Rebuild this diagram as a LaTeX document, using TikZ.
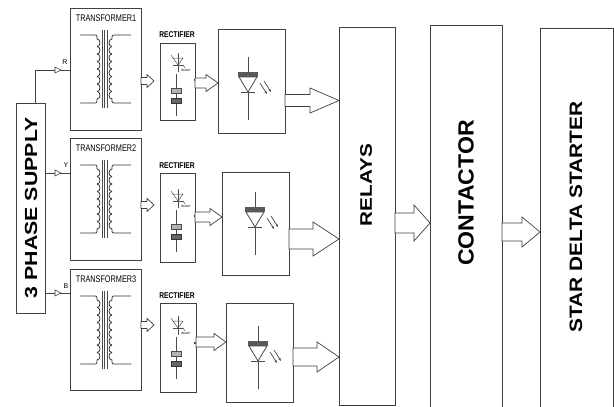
\documentclass[tikz,border=0pt]{standalone}
\usepackage{fontspec}
\setmainfont{Liberation Sans}
\usetikzlibrary{arrows.meta}
\newcommand\blockarrow[7]{%
  \path (#1.east |- 0,#3) coordinate (ba1) (#2.west |- 0,#3) coordinate (ba2);
  \draw[arr] ([yshift=#4pt]ba1) -- ([xshift=-#6pt-#7pt,yshift=#4pt]ba2) -- ([xshift=-#6pt-#7pt,yshift=#5pt]ba2) -- ([xshift=-#7pt]ba2) -- ([xshift=-#6pt-#7pt,yshift=-#5pt]ba2) -- ([xshift=-#6pt-#7pt,yshift=-#4pt]ba2) -- ([yshift=-#4pt]ba1) -- cycle;}
\tikzset{
  box/.style={draw=black!75, line width=0.8pt, anchor=north west, inner sep=0pt, outer sep=0pt},
  arr/.style={draw=black!75, line width=0.7pt, fill=white},
  sym/.style={draw=black!70, line width=0.5pt},
  coil/.style={draw=black!80, line width=0.75pt},
  wire/.style={draw=black!75, line width=0.7pt},
  ttl/.style={inner sep=0pt, font=\fontsize{9.6}{9.6}\selectfont},
  rtl/.style={inner sep=0pt, font=\fontsize{8.4}{8.4}\selectfont\bfseries},
  big/.style={inner sep=0pt, rotate=90},
  phl/.style={inner sep=0pt, font=\fontsize{7}{7}\selectfont},
  xfsym/.pic={
    \foreach \dx in {-2.5,0,2.5} \draw[sym, line width=0.6pt] (34.5+\dx,22) -- (34.5+\dx,100);
    \draw[coil] (10,27) -- (23,27) .. controls (27,27) .. (27,31);
    \foreach \i in {0,...,7} \draw[coil] (27,31+7.5*\i) .. controls (31,31+7.5*\i) and (31,38.5+7.5*\i) .. (27,38.5+7.5*\i);
    \draw[coil] (27,91) .. controls (27,95) .. (23,95) -- (10,95);
    \draw[coil] (61,27) -- (46,27) .. controls (42,27) .. (42,31);
    \foreach \i in {0,...,7} \draw[coil] (42,31+7.5*\i) .. controls (38,31+7.5*\i) and (38,38.5+7.5*\i) .. (42,38.5+7.5*\i);
    \draw[coil] (42,91) .. controls (42,95) .. (46,95) -- (61,95);
  },
  rectsym/.pic={
    \draw[sym] (18,10) -- (18,29);
    \draw[sym] (13,15) -- (23,15) -- (18,22) -- cycle;
    \draw[sym] (13,22) -- (23,22);
    \draw[sym] (11,12) -- (13,15) (23,22) -- (25,25);
    \node[inner sep=0pt, font=\fontsize{3}{3}\selectfont] (-d) at (26,27) {IN4007};
    \draw[sym] (16,31) -- (16,73);
    \filldraw[draw=black!70, fill=black!30] (11,45) rectangle (21,50);
    \filldraw[draw=black!80, fill=black!60] (11,55) rectangle (21,60);
    \fill[black!70] (34,36) rectangle (36,38);
  },
  optosym/.pic={
    \draw[sym, line width=0.7pt] (0,-17) -- (0,46);
    \fill[black!65] (-10,-2) rectangle (10,3);
    \draw[sym, line width=0.8pt, fill=white] (-9,3) -- (9,3) -- (0,18) -- cycle;
    \draw[sym, line width=0.8pt] (-7,18) -- (7,18);
    \draw[sym, line width=0.7pt, -{Stealth[length=3pt]}] (12,9) -- (19,20);
    \draw[sym, line width=0.7pt, -{Stealth[length=3pt]}] (16,7) -- (23,18);
  }
}
\begin{document}
\begin{tikzpicture}[x=1pt, y=-1pt]
\useasboundingbox[fill=white] (0,0) rectangle (614,407);
% supply
\node[box, minimum width=29pt, minimum height=210pt] (sup) at (16,103) {};
\node[big, font=\fontsize{17.5}{17.5}\selectfont\bfseries] (supl) at (31,208) {\scalebox{1.22}[1]{3 PHASE SUPPLY}};
% transformers
\node[box, minimum width=71pt, minimum height=122pt] (t1) at (70,8) {};
\node[box, minimum width=71pt, minimum height=122pt] (t2) at (70,138) {};
\node[box, minimum width=71pt, minimum height=121pt] (t3) at (70,269) {};
\node[ttl] (t1l) at (106,18) {\scalebox{0.76}[1]{TRANSFORMER1}};
\node[ttl] (t2l) at (106,148) {\scalebox{0.76}[1]{TRANSFORMER2}};
\node[ttl] (t3l) at (106,279) {\scalebox{0.76}[1]{TRANSFORMER3}};
\pic (x1) at (t1.north west) {xfsym};
\pic (x2) at (t2.north west) {xfsym};
\pic (x3) at (t3.north west) {xfsym};
% supply wires
\draw[wire] ([xshift=4.5pt]sup.north) |- (t1.west |- 0,70);
\draw[wire] (sup.east |- 0,173) -- (t2.west |- 0,173);
\draw[wire] (sup.east |- 0,293) -- (t3.west |- 0,293);
\foreach \yy in {70,173,293} \draw[wire, line width=0.6pt, fill=white] (55,\yy-3) -- (61,\yy) -- (55,\yy+3) -- cycle;
\node[phl] (lr) at (65,62) {R};
\node[phl] (ly) at (66,165) {Y};
\node[phl] (lb) at (66,286) {B};
% rectifiers
\node[box, minimum width=35pt, minimum height=77pt] (r1) at (160,43) {};
\node[box, minimum width=35pt, minimum height=89pt] (r2) at (160,173) {};
\node[box, minimum width=36pt, minimum height=89pt] (r3) at (160,303) {};
\node[rtl] (r1l) at (177,35) {\scalebox{0.8}[1]{RECTIFIER}};
\node[rtl] (r2l) at (177,166) {\scalebox{0.8}[1]{RECTIFIER}};
\node[rtl] (r3l) at (177,296) {\scalebox{0.8}[1]{RECTIFIER}};
\pic (s1) at (r1.north west) {rectsym};
\pic (s2) at ([yshift=-6pt]r2.north west) {rectsym};
\pic (s3) at ([yshift=-3pt]r3.north west) {rectsym};
% opto boxes
\node[box, minimum width=67pt, minimum height=104pt] (o1) at (218,29) {};
\node[box, minimum width=67pt, minimum height=103pt] (o2) at (222,172) {};
\node[box, minimum width=67pt, minimum height=99pt] (o3) at (226,303) {};
\pic (p1) at (248,74) {optosym};
\pic (p2) at (255,209) {optosym};
\pic (p3) at (258,343) {optosym};
% big boxes
\node[box, minimum width=56pt, minimum height=378pt] (rel) at (339,27) {};
\node[box, minimum width=72pt, minimum height=390pt] (con) at (430,25) {};
\node[box, minimum width=73pt, minimum height=390pt] (sd) at (540,28) {};
\node[big, font=\fontsize{16.7}{16.7}\selectfont\bfseries] (rell) at (366,185) {\scalebox{1.24}[1]{RELAYS}};
\node[big, font=\fontsize{22}{22}\selectfont\bfseries] (conl) at (466,193) {\scalebox{1.05}[1]{CONTACTOR}};
\node[big, font=\fontsize{18}{18}\selectfont\bfseries] (sdl) at (576,217) {\scalebox{1.16}[1]{STAR DELTA STARTER}};
% arrows transformer -> rectifier
\blockarrow{t1}{r1}{81}{3.5}{6.5}{7}{6}
\blockarrow{t2}{r2}{205}{3.5}{6.5}{7}{6}
\blockarrow{t3}{r3}{325}{3.5}{6.5}{7}{6}
% rectifier -> opto
\blockarrow{r1}{o1}{83}{5}{8.5}{12}{0}
\blockarrow{r2}{o2}{217}{5}{8.5}{12}{0}
\blockarrow{r3}{o3}{342}{5}{8.5}{12}{0}
% opto -> relays
\blockarrow{o1}{rel}{100.5}{6}{12.5}{29}{0}
\blockarrow{o2}{rel}{239}{10}{17}{26}{0}
\blockarrow{o3}{rel}{357}{9}{15}{22}{0}
% relays -> contactor -> starter
\blockarrow{rel}{con}{223}{10}{18}{16}{0}
\blockarrow{con}{sd}{232}{9}{15}{18}{0}
\end{tikzpicture}
\end{document}
